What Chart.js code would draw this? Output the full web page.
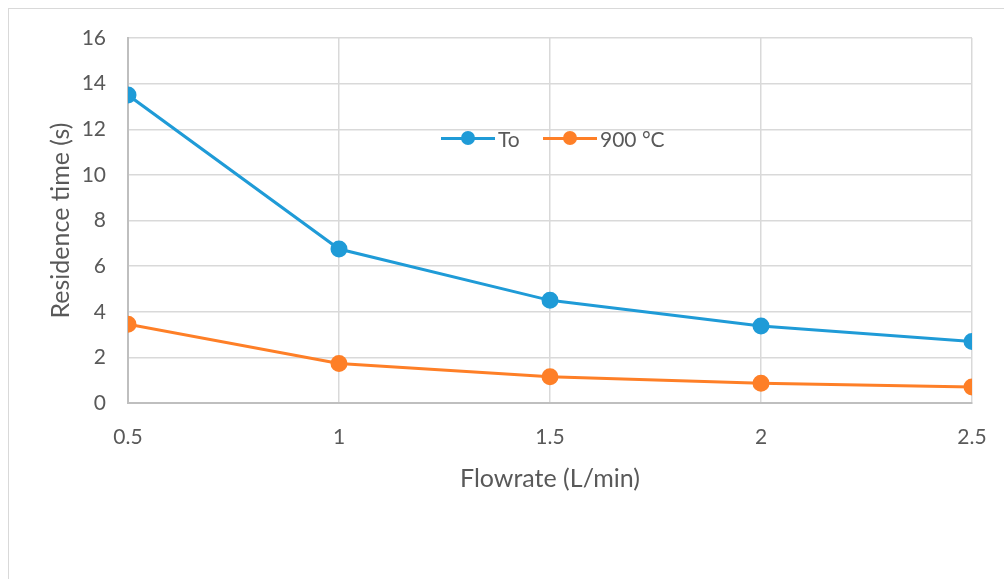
<!DOCTYPE html>
<html lang="en">
  <head>
    <meta charset="UTF-8" />
    <title>Residence time vs flowrate</title>
    <style>
      body {
        margin: 0;
        width: 1004px;
        height: 579px;
        overflow: hidden;
        background: #fff;
        font-family: Lato, sans-serif;
      }
      #frame {
        position: absolute;
        left: 8px;
        top: 8px;
        width: 1100px;
        height: 700px;
        border: 1.5px solid #d9d9d9;
      }
      #wrap {
        position: absolute;
        left: 0;
        top: 0;
        width: 1004px;
        height: 579px;
      }
      .item {
        position: absolute;
        top: 126px;
        height: 24px;
        display: flex;
        align-items: center;
        font-size: 21px;
        color: #595959;
      }
      .item .mark {
        position: relative;
        width: 54px;
        height: 24px;
        margin-right: 3px;
      }
      .item .mark i {
        position: absolute;
        left: 0;
        right: 0;
        top: 10.5px;
        height: 3px;
      }
      .item .mark b {
        position: absolute;
        left: 20px;
        top: 5px;
        width: 14px;
        height: 14px;
        border-radius: 50%;
      }
    </style>
    <script src="https://cdn.jsdelivr.net/npm/chart.js"></script>
  </head>
  <body>
    <div id="frame"></div>
    <div id="wrap"><canvas id="graph" width="1004" height="579"></canvas></div>

    <script>
      // valores
      const flowrate = [0.5, 1, 1.5, 2, 2.5];
      const toValues = [13.5, 6.75, 4.5, 3.38, 2.7];
      const c900Values = [3.45, 1.73, 1.15, 0.87, 0.7];
      const seriesNames = ["To", "900 °C"];
      const seriesColors = ["#1f9bd7", "#fe7f27"];
      const legendLeft = [441, 543];

      const toPoints = (vals) => flowrate.map((x, i) => ({ x: x, y: vals[i] }));

      // leyenda en html, dentro del area del grafico
      seriesNames.forEach((name, i) => {
        const item = document.createElement("div");
        item.className = "item";
        item.style.left = legendLeft[i] + "px";
        item.innerHTML =
          '<span class="mark"><i style="background:' + seriesColors[i] +
          '"></i><b style="background:' + seriesColors[i] + '"></b></span>' + name;
        document.body.appendChild(item);
      });

      const tickFont = { family: "Lato", size: 21 };
      const titleFont = { family: "Lato", size: 25 };

      const chart = new Chart(document.getElementById("graph"), {
        type: "line",
        data: {
          datasets: [
            { label: seriesNames[0], data: toPoints(toValues) },
            { label: seriesNames[1], data: toPoints(c900Values) },
          ].map((d, i) => ({
            ...d,
            borderColor: seriesColors[i],
            backgroundColor: seriesColors[i],
            pointBackgroundColor: seriesColors[i],
            pointBorderColor: seriesColors[i],
            borderWidth: 3,
            pointRadius: 7,
            tension: 0,
          })),
        },
        options: {
          responsive: false,
          animation: false,
          layout: { padding: { left: 46, top: 38, right: 32, bottom: 84 } },
          plugins: { legend: { display: false }, tooltip: { enabled: false } },
          scales: {
            x: {
              type: "linear",
              min: 0.5,
              max: 2.5,
              ticks: {
                stepSize: 0.5,
                color: "#595959",
                font: tickFont,
                padding: 22,
                callback: (v) => String(v),
              },
              grid: { color: "#d9d9d9", lineWidth: 1.5, drawTicks: false },
              border: { color: "#bfbfbf", width: 2 },
              title: {
                display: true,
                text: "Flowrate (L/min)",
                color: "#595959",
                font: titleFont,
                padding: { top: 0, bottom: 1 },
              },
              // el padding de los ticks empujaba el borde derecho
              afterFit: (s) => {
                s.height = 92;
                s.paddingRight = 16;
                s.paddingLeft = 16;
              },
            },
            y: {
              min: 0,
              max: 16,
              ticks: { stepSize: 2, color: "#595959", font: tickFont, padding: 22 },
              grid: { color: "#d9d9d9", lineWidth: 1.5, drawTicks: false },
              border: { color: "#bfbfbf", width: 2 },
              title: {
                display: true,
                text: "Residence time (s)",
                color: "#595959",
                font: titleFont,
                padding: { top: 0, bottom: 0 },
              },
              afterFit: (s) => { s.width = 82; },
            },
          },
        },
      });
    </script>
  </body>
</html>
